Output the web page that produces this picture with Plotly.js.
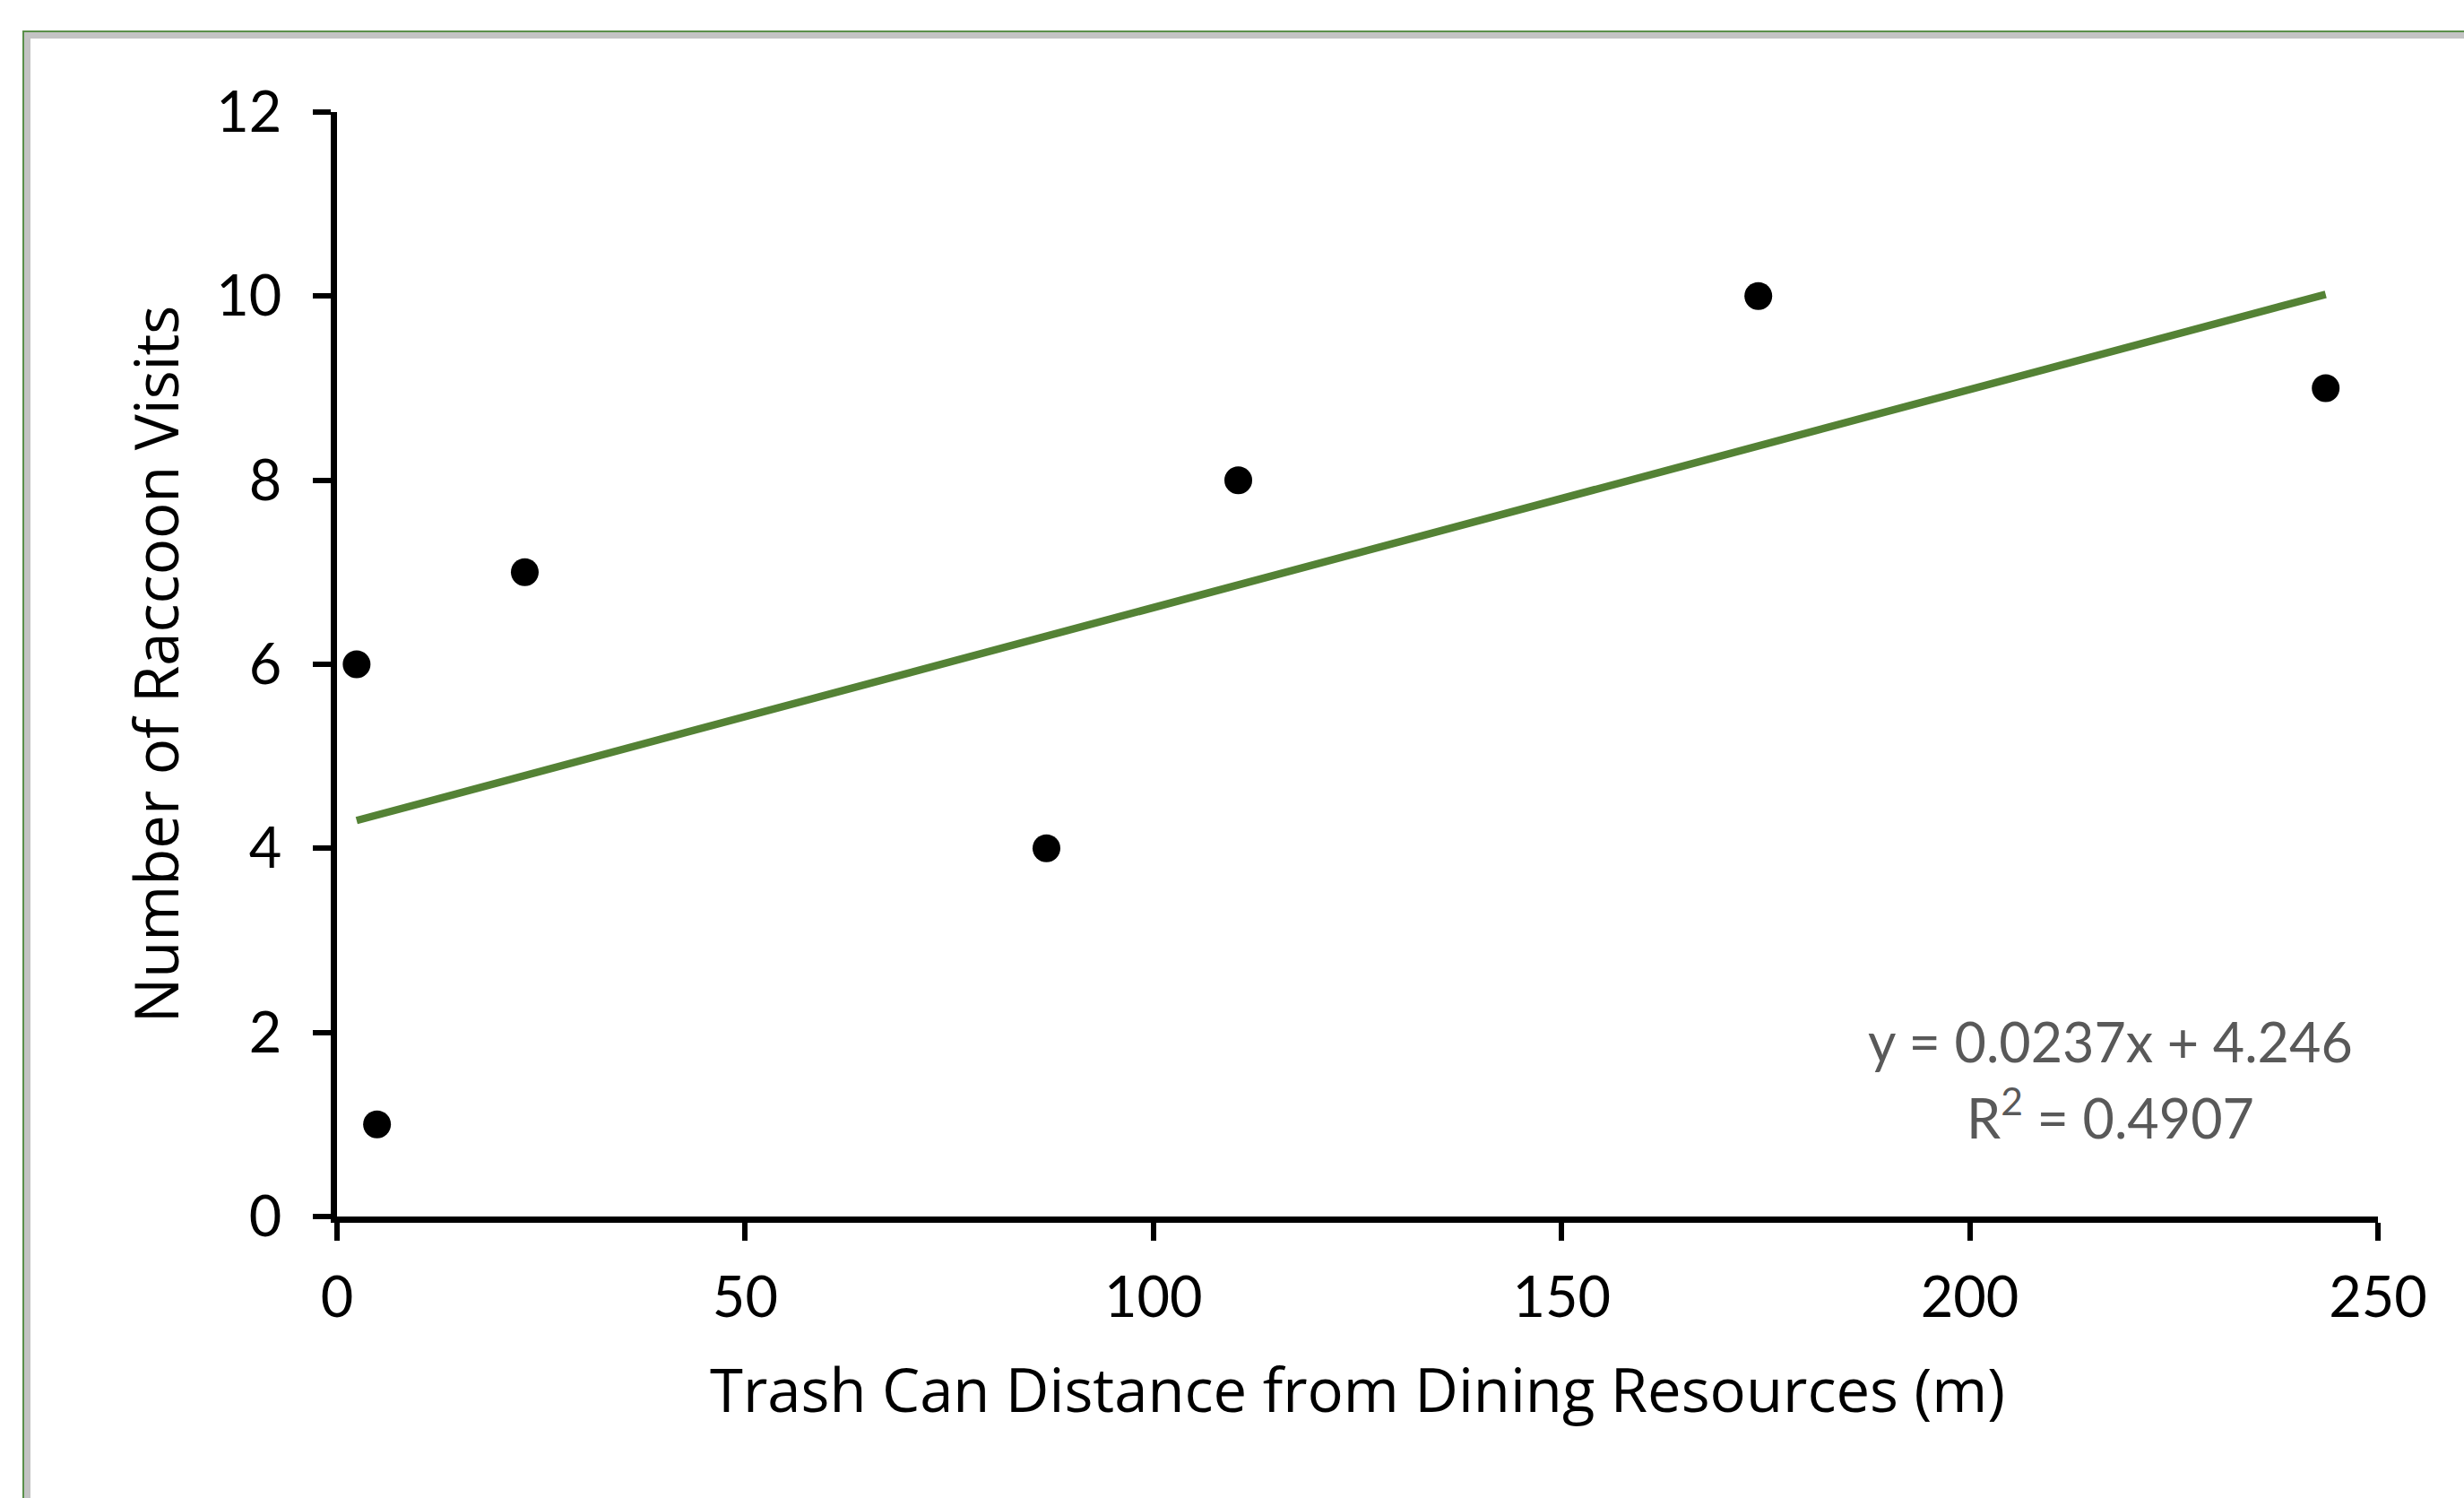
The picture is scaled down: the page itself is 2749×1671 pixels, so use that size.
<!DOCTYPE html>
<html>
<head>
<meta charset="utf-8">
<script src="https://cdn.plot.ly/plotly-3.0.1.min.js"></script>
<style>
  html, body { margin: 0; padding: 0; background: #ffffff; overflow: hidden; }
  #frame-green { position: absolute; left: 25px; top: 34px; width: 3000px; height: 2000px;
    border-left: 2px solid #5a8f4a; border-top: 2px solid #5a8f4a; box-sizing: border-box; }
  #frame-gray { position: absolute; left: 27px; top: 36px; width: 3000px; height: 2000px;
    border-left: 7px solid #c3c3c3; border-top: 7px solid #c3c3c3; box-sizing: border-box; }
  #chart { position: absolute; left: 0; top: 0; width: 2749px; height: 1671px; }
</style>
</head>
<body>
<div id="frame-green"></div>
<div id="frame-gray"></div>
<div id="chart"></div>
<script>
// Data
const distance = [2.4, 4.9, 23, 86.9, 110.4, 174.1, 243.6];   // m
const visits   = [6, 1, 7, 4, 8, 10, 9];
const xTicks = [0, 50, 100, 150, 200, 250];
const yTicks = [0, 2, 4, 6, 8, 10, 12];
const slope = 0.0237;
const intercept = 4.246;
const rSquared = 0.4907;
const xTitle = 'Trash Can Distance from Dining Resources (m)';
const yTitle = 'Number of Raccoon Visits';

const xMin = Math.min(...distance), xMax = Math.max(...distance);
const trendX = [xMin, xMax];
const trendY = trendX.map(v => slope * v + intercept);

const FONT = 'Lato, "Open Sans", sans-serif';
const TITLE_FONT = '"Open Sans", Lato, sans-serif';

const traces = [
  {
    x: trendX, y: trendY, type: 'scatter', mode: 'lines',
    line: { color: '#548235', width: 8.5 }, hoverinfo: 'skip', showlegend: false
  },
  {
    x: distance, y: visits, type: 'scatter', mode: 'markers',
    marker: { color: '#000000', size: 31, line: { width: 0 } }, showlegend: false
  }
];

const layout = {
  width: 2749, height: 1671,
  margin: { l: 376, r: 96, t: 125, b: 314 },
  paper_bgcolor: 'rgba(0,0,0,0)', plot_bgcolor: 'rgba(0,0,0,0)',
  font: { family: FONT, color: '#000000' },
  showlegend: false,
  xaxis: {
    range: [0, 250], tickvals: xTicks, ticktext: xTicks.map(String),
    showgrid: false, zeroline: false, showline: true, linecolor: '#000', linewidth: 7,
    ticks: 'outside', ticklen: 20, tickwidth: 6, tickcolor: '#000',
    tickfont: { size: 63, family: FONT, color: '#000' },
    ticklabelstandoff: 9,
    title: { text: xTitle, font: { size: 67, family: TITLE_FONT, color: '#000' }, standoff: 50 },
    automargin: false
  },
  yaxis: {
    range: [0, 12], tickvals: yTicks, ticktext: yTicks.map(String),
    showgrid: false, zeroline: false, showline: true, linecolor: '#000', linewidth: 7,
    ticks: 'outside', ticklen: 20, tickwidth: 6, tickcolor: '#000',
    tickfont: { size: 63, family: FONT, color: '#000' },
    ticklabelstandoff: 22,
    title: { text: yTitle, font: { size: 67, family: TITLE_FONT, color: '#000' }, standoff: 22 },
    automargin: false
  },
  annotations: [
    {
      xref: 'x', yref: 'y', x: 217.2, y: 1.90, xanchor: 'center', yanchor: 'middle',
      text: 'y = ' + slope + 'x + ' + intercept, showarrow: false,
      font: { size: 61, family: FONT, color: '#595959' }
    },
    {
      xref: 'x', yref: 'y', x: 217.2, y: 1.12, xanchor: 'center', yanchor: 'middle',
      text: 'R<sup>2</sup> = ' + rSquared, showarrow: false,
      font: { size: 61, family: FONT, color: '#595959' }
    }
  ]
};

Plotly.newPlot('chart', traces, layout, { displayModeBar: false, staticPlot: true });
</script>
</body>
</html>
